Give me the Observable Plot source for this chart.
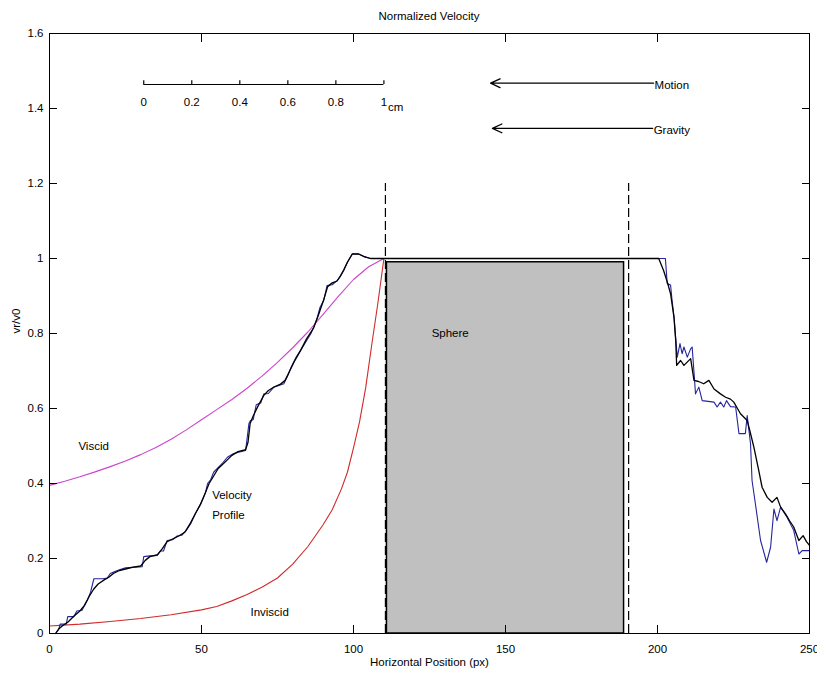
<!DOCTYPE html>
<html>
<head>
<meta charset="utf-8">
<script src="https://cdn.jsdelivr.net/npm/d3@7"></script>
<script src="https://cdn.jsdelivr.net/npm/@observablehq/plot@0.6"></script>
<style>
  body { margin: 0; background: #fff; font-family: "Liberation Sans", Arial, sans-serif; }
  #title { width: 760px; margin-left: 49px; height: 24px; box-sizing: border-box; padding-top: 10px;
           line-height: 13px; font-size: 11.5px; text-align: center; color: #000; }
</style>
</head>
<body>
<div id="title">Normalized Velocity</div>
<div id="chart"></div>
<script>
// ---- axis ticks ----
const xTicks = [0, 50, 100, 150, 200, 250];
const yTicks = [0, 0.2, 0.4, 0.6, 0.8, 1, 1.2, 1.4, 1.6];

// ---- theory curves (x in px, y = vr/v0) ----
const viscidX = [0, 5, 10, 15, 20, 25, 30, 35, 40, 45, 50, 55, 60, 65, 70, 75, 80, 85, 90, 95, 100, 105, 110];
const viscidY = [0.395, 0.406, 0.418, 0.431, 0.445, 0.46, 0.477, 0.496, 0.518, 0.543, 0.57, 0.597, 0.624, 0.654, 0.687, 0.723, 0.762, 0.804, 0.851, 0.899, 0.944, 0.978, 1.0];

const invX = [0, 10, 20, 30, 40, 50, 55, 60, 65, 70, 75, 80, 85, 90, 93, 96, 98, 100, 102, 104, 106, 108, 110];
const invY = [0.02, 0.025, 0.032, 0.04, 0.05, 0.063, 0.072, 0.087, 0.104, 0.124, 0.148, 0.185, 0.232, 0.29, 0.33, 0.385, 0.43, 0.495, 0.565, 0.655, 0.77, 0.88, 1.0];

// ---- measured velocity profile (black, smoothed) ----
const blackX = [2, 3, 4.5, 6, 8, 10, 11.5, 13, 14.5, 16, 18, 19.5, 21, 23, 25, 27.5, 30, 31.5, 33, 35.5, 37, 38.7, 40.5, 42.5, 44.5, 46.4, 48, 49.7, 51, 52.5, 54, 55.5, 57.5, 60, 62, 64.5, 65.3, 66, 67, 68.5, 70.5, 72, 74, 76, 77.5, 79, 80.5, 82.6, 84.5, 86.9, 88.5, 90.2, 91.5, 93, 94.6, 95.8, 96.8, 98, 99.6, 101.7, 103.5, 105.6, 110, 200,
  200.4, 202, 203.3, 204.3, 205.4, 206, 206.3, 207.6, 208.7, 210.9, 212, 213.5, 215.2, 216.9, 218.6, 220.7, 222.4, 224, 225.1, 226.3, 227.3, 229.5, 230.4, 231.7, 233.3, 234.4, 236.1, 237.7, 239.3, 240.5, 242.1, 243.5, 244.8, 246.5, 247.9, 249, 250];
const blackY = [0, 0.012, 0.022, 0.03, 0.046, 0.06, 0.075, 0.098, 0.118, 0.132, 0.143, 0.15, 0.16, 0.168, 0.172, 0.177, 0.18, 0.195, 0.205, 0.21, 0.225, 0.245, 0.252, 0.26, 0.27, 0.295, 0.32, 0.345, 0.37, 0.4, 0.42, 0.44, 0.455, 0.475, 0.485, 0.49, 0.51, 0.56, 0.58, 0.605, 0.635, 0.648, 0.658, 0.665, 0.675, 0.7, 0.725, 0.755, 0.785, 0.815, 0.85, 0.89, 0.925, 0.935, 0.94, 0.955, 0.97, 0.99, 1.012, 1.012, 1.005, 1.0, 1.0, 1.0,
  1.0, 0.968, 0.935, 0.906, 0.844, 0.781, 0.715, 0.728, 0.715, 0.733, 0.675, 0.672, 0.666, 0.675, 0.652, 0.639, 0.63, 0.625, 0.617, 0.6, 0.586, 0.568, 0.54, 0.497, 0.435, 0.39, 0.363, 0.35, 0.363, 0.337, 0.319, 0.3, 0.284, 0.248, 0.261, 0.245, 0.235];

// ---- measured velocity profile (blue, raw) ----
const blueX = [2, 3, 3.5, 5.5, 6, 8, 9, 10.7, 12.5, 13.5, 14.6, 17.5, 19, 20, 21.5, 23, 25, 30.5, 31, 33, 35.4, 36.5, 37.5, 38.7, 40.5, 42, 43.5, 45, 46.4, 48, 49.7, 51.3, 52, 53, 54, 55.2, 57, 58.5, 60.6, 64.5, 65, 65.6, 66.1, 67, 68, 69.5, 70.5, 72, 73.8, 75, 77.1, 78.5, 79.5, 81, 82.6, 84.5, 86, 86.9, 88, 89, 90.2, 91.3, 93, 94.6, 95.5, 96.8, 98, 99.6, 101.7, 103.5, 105.6, 110, 202.6,
  203.2, 204.3, 204.8, 205.5, 206, 206.5, 207.4, 208.1, 208.7, 209.8, 210.9, 211.4, 212.2, 212.5, 213.6, 214.7, 218.6, 219.6, 220.7, 221.8, 222.7, 224, 225.7, 226.8, 228.9, 229.5, 230.6, 231.1, 232.2, 233.9, 235.9, 237.2, 238.3, 239.3, 240.5, 242.6, 244.8, 246.5, 247.6, 250];
const blueY = [0, 0.01, 0.025, 0.025, 0.045, 0.045, 0.06, 0.062, 0.09, 0.11, 0.146, 0.146, 0.148, 0.16, 0.165, 0.17, 0.175, 0.178, 0.205, 0.207, 0.208, 0.22, 0.22, 0.248, 0.25, 0.26, 0.262, 0.275, 0.292, 0.32, 0.345, 0.375, 0.4, 0.41, 0.43, 0.44, 0.455, 0.47, 0.48, 0.488, 0.52, 0.56, 0.568, 0.57, 0.61, 0.615, 0.639, 0.64, 0.657, 0.66, 0.666, 0.69, 0.71, 0.735, 0.755, 0.78, 0.8, 0.817, 0.84, 0.87, 0.888, 0.928, 0.93, 0.941, 0.95, 0.968, 0.99, 1.012, 1.012, 1.005, 1.0, 1.0, 1.0,
  0.933, 0.929, 0.888, 0.84, 0.785, 0.737, 0.773, 0.746, 0.764, 0.737, 0.759, 0.764, 0.675, 0.639, 0.657, 0.621, 0.617, 0.604, 0.617, 0.604, 0.621, 0.605, 0.604, 0.533, 0.533, 0.581, 0.506, 0.408, 0.346, 0.248, 0.19, 0.23, 0.332, 0.301, 0.337, 0.31, 0.275, 0.212, 0.221, 0.221];

// ---- sphere and its boundaries ----
const sphereLeft = 111, sphereRight = 189, sphereTop = 0.99;
const boundaryX = [110.5, 190.5];
const boundaryTop = 1.2;

// ---- scale bar (cm) ----
const scaleTicks = [0, 0.2, 0.4, 0.6, 0.8, 1];
const scaleStart = 31, scalePxPerCm = 79, scaleY = 1.464, scaleLabelY = 1.416;

// ---- direction arrows ----
const arrowLabels = ["Motion", "Gravity"];
const arrowFrom = [198.7, 198.4];
const arrowTo = [145.1, 145.7];
const arrowY = [1.4675, 1.347];

// ---- text annotations ----
const noteText = ["Viscid", "Velocity", "Profile", "Inviscid", "Sphere"];
const noteX = [9.5, 53.5, 53.5, 66.1, 125.7];
const noteY = [0.498, 0.368, 0.315, 0.057, 0.8];

const zip = (xs, ys) => xs.map((x, i) => ({x, y: ys[i]}));
const viscid = zip(viscidX, viscidY);
const inviscid = zip(invX, invY);
const black = zip(blackX, blackY);
const blue = zip(blueX, blueY);
const arrows = arrowLabels.map((label, i) => ({label, from: arrowFrom[i], to: arrowTo[i], y: arrowY[i]}));
const notes = noteText.map((t, i) => ({t, x: noteX[i], y: noteY[i]}));
const fmt = d3.format("~g");

const chart = Plot.plot({
  width: 817,
  height: 652,
  marginLeft: 49,
  marginRight: 8,
  marginTop: 9,
  marginBottom: 43,
  style: {fontFamily: "Liberation Sans, Arial, sans-serif", fontSize: "11.5px", background: "white", color: "black", overflow: "visible"},
  x: {domain: [0, 250]},
  y: {domain: [0, 1.6]},
  marks: [
    Plot.rect([0], {x1: () => sphereLeft, x2: () => sphereRight, y1: () => 0, y2: () => sphereTop, fill: "#c0c0c0", stroke: "black", strokeWidth: 1.5}),
    Plot.ruleX(boundaryX, {x: d => d, y1: 0, y2: boundaryTop, stroke: "black", strokeDasharray: "9,4", strokeWidth: 1.2}),
    Plot.line(viscid, {x: "x", y: "y", stroke: "#cc44cc", strokeWidth: 1.1}),
    Plot.line(inviscid, {x: "x", y: "y", stroke: "#d02a2a", strokeWidth: 1.1}),
    Plot.line(blue, {x: "x", y: "y", stroke: "#25259e", strokeWidth: 1.1}),
    Plot.line(black, {x: "x", y: "y", stroke: "black", strokeWidth: 1.3}),
    // scale bar
    Plot.ruleY([scaleY], {x1: scaleStart, x2: scaleStart + scalePxPerCm, stroke: "black", strokeWidth: 1.2}),
    Plot.ruleX(scaleTicks, {x: d => scaleStart + d * scalePxPerCm, y1: scaleY, y2: scaleY + 0.01, stroke: "black", strokeWidth: 1.2}),
    Plot.text(scaleTicks, {x: d => scaleStart + d * scalePxPerCm, y: scaleLabelY, text: d => fmt(d)}),
    Plot.text(["cm"], {x: scaleStart + scalePxPerCm, y: scaleLabelY, text: d => d, textAnchor: "start", dx: 4, dy: 5}),
    // arrows
    Plot.arrow(arrows, {x1: "from", x2: "to", y1: "y", y2: "y", stroke: "black", strokeWidth: 1.3, headLength: 12, headAngle: 50}),
    Plot.text(arrows, {x: "from", y: "y", text: "label", textAnchor: "start", dx: 1, dy: 2}),
    // annotations
    Plot.text(notes, {x: "x", y: "y", text: "t", textAnchor: "start"}),
    // axes
    Plot.frame({stroke: "black"}),
    Plot.axisX(xTicks, {anchor: "bottom", tickSize: -8, tickPadding: 19, label: null, tickFormat: fmt}),
    Plot.axisX(xTicks, {anchor: "top", tickSize: -8, label: null, tickFormat: () => ""}),
    Plot.axisY(yTicks, {anchor: "left", tickSize: -8, tickPadding: 14, label: null, tickFormat: fmt}),
    Plot.axisY(yTicks, {anchor: "right", tickSize: -8, label: null, tickFormat: () => ""}),
    Plot.text(["Horizontal Position (px)"], {frameAnchor: "bottom", text: d => d, dy: 32}),
    Plot.text(["vr/v0"], {frameAnchor: "left", text: d => d, rotate: -90, dx: -33})
  ]
});
document.getElementById("chart").appendChild(chart);
</script>
</body>
</html>
